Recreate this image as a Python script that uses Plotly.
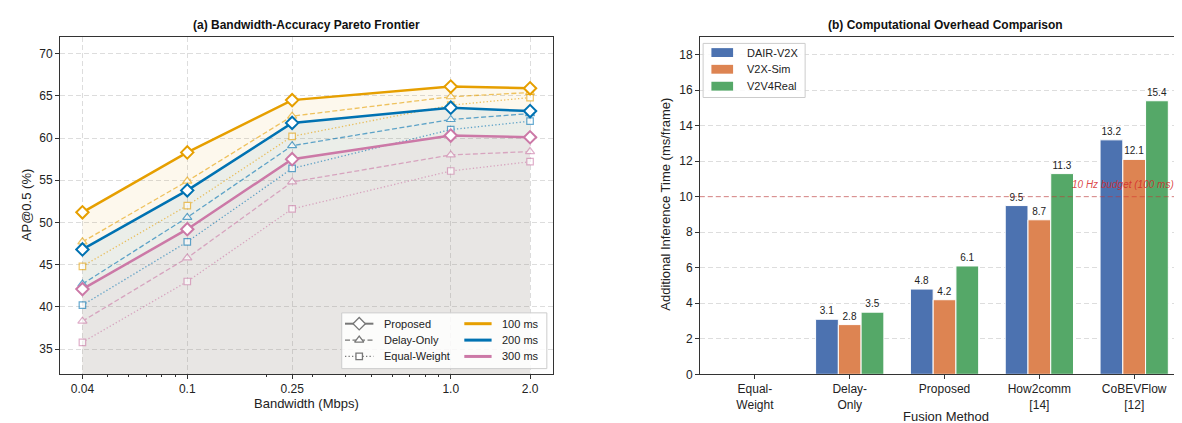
import plotly.graph_objects as go

# ---------------- data: panel (a) ----------------
bandwidth = [0.04, 0.1, 0.25, 1.0, 2.0]
bandwidth_labels = ["0.04", "0.1", "0.25", "1.0", "2.0"]
delay_labels = ["100 ms", "200 ms", "300 ms"]

proposed_100 = [51.2, 58.3, 64.5, 66.1, 65.9]
proposed_200 = [46.8, 53.8, 61.8, 63.6, 63.2]
proposed_300 = [42.1, 49.2, 57.5, 60.3, 60.1]
delay_only_100 = [47.7, 54.9, 62.6, 64.9, 65.4]
delay_only_200 = [42.7, 50.6, 59.1, 62.2, 62.9]
delay_only_300 = [38.3, 45.8, 54.8, 58.0, 58.4]
equal_weight_100 = [44.8, 52.0, 60.2, 63.9, 64.8]
equal_weight_200 = [40.2, 47.7, 56.4, 61.0, 62.0]
equal_weight_300 = [35.8, 43.0, 51.6, 56.1, 57.2]

# ---------------- data: panel (b) ----------------
methods = ["Equal-<br>Weight", "Delay-<br>Only", "Proposed", "How2comm<br>[14]", "CoBEVFlow<br>[12]"]
datasets = ["DAIR-V2X", "V2X-Sim", "V2V4Real"]
dair_v2x = [0.0, 3.1, 4.8, 9.5, 13.2]
v2x_sim = [0.0, 2.8, 4.2, 8.7, 12.1]
v2v4real = [0.0, 3.5, 6.1, 11.3, 15.4]
budget_ms = 10

# ---------------- styles ----------------
W, H = 1182, 423
delay_colors = ["#E69F00", "#0072B2", "#CC79A7"]
delay_fills = ["rgba(230,159,0,0.07)", "rgba(0,114,178,0.07)", "rgba(204,121,167,0.07)"]
bar_colors = ["#4C72B0", "#DD8452", "#55A868"]
FONT = "Liberation Sans, Arial, sans-serif"
AX = "#333333"
GRID = "#dddddd"
TXT = "#222222"
DASH = "5px,2.5px"
DOT = "1.3px,2.2px"


def px_x(p):
    return p / W


def px_y(p):
    return 1 - p / H


fig = go.Figure()

prop = [proposed_100, proposed_200, proposed_300]
dly = [delay_only_100, delay_only_200, delay_only_300]
eqw = [equal_weight_100, equal_weight_200, equal_weight_300]

# fills under proposed curves
for i in range(3):
    fig.add_trace(go.Scatter(x=bandwidth, y=prop[i], mode="none", fill="tozeroy",
                             fillcolor=delay_fills[i], showlegend=False, hoverinfo="skip",
                             xaxis="x", yaxis="y"))

# baselines
for i in range(3):
    fig.add_trace(go.Scatter(x=bandwidth, y=dly[i], mode="lines+markers", opacity=0.6,
                             line=dict(color=delay_colors[i], width=1.3, dash=DASH),
                             marker=dict(symbol="triangle-up", size=8, color="white",
                                         line=dict(color=delay_colors[i], width=1.2)),
                             showlegend=False, xaxis="x", yaxis="y"))
    fig.add_trace(go.Scatter(x=bandwidth, y=eqw[i], mode="lines+markers", opacity=0.6,
                             line=dict(color=delay_colors[i], width=1.3, dash=DOT),
                             marker=dict(symbol="square", size=6.5, color="white",
                                         line=dict(color=delay_colors[i], width=1.2)),
                             showlegend=False, xaxis="x", yaxis="y"))

# proposed
for i in range(3):
    fig.add_trace(go.Scatter(x=bandwidth, y=prop[i], mode="lines+markers",
                             line=dict(color=delay_colors[i], width=2.5),
                             marker=dict(symbol="diamond", size=9.5, color="white",
                                         line=dict(color=delay_colors[i], width=2)),
                             showlegend=False, xaxis="x", yaxis="y"))

# ---------------- panel (b) bars ----------------
for name, vals, c in zip(datasets, [dair_v2x, v2x_sim, v2v4real], bar_colors):
    fig.add_trace(go.Bar(x=methods, y=vals, name=name, marker=dict(color=c, line=dict(color="white", width=1)),
                         text=[f"{v:.1f}" if v > 0 else "" for v in vals], textposition="outside",
                         textfont=dict(size=10, color=TXT, family=FONT), constraintext="none",
                         cliponaxis=False, showlegend=False, xaxis="x2", yaxis="y2"))

# ---------------- legends drawn on a pixel overlay (x3/y3) ----------------
def legend_box(x0, x1, y0, y1):
    fig.add_trace(go.Scatter(x=[x0, x1, x1, x0, x0], y=[y0, y0, y1, y1, y0], mode="lines",
                             fill="toself", fillcolor="rgba(255,255,255,0.85)",
                             line=dict(color="#cccccc", width=1), showlegend=False,
                             hoverinfo="skip", xaxis="x3", yaxis="y3"))


def legend_text(x, y, text):
    fig.add_annotation(xref="x3", yref="y3", x=x, y=y, text=text, showarrow=False,
                       xanchor="left", yanchor="middle", font=dict(size=11, family=FONT, color=TXT))


# left legend
legend_box(334, 539.3, 310, 366.7)
rows_a = [321, 337.7, 354.3]
style_names = ["Proposed", "Delay-Only", "Equal-Weight"]
style_dash = ["solid", DASH, DOT]
style_sym = ["diamond", "triangle-up", "square"]
style_size = [9.5, 8, 6.5]
style_w = [2, 1.3, 1.3]
for r, n, d, s, sz, lw in zip(rows_a, style_names, style_dash, style_sym, style_size, style_w):
    fig.add_trace(go.Scatter(x=[337.3, 365.7], y=[r, r], mode="lines", line=dict(color="#777777", width=lw, dash=d),
                             showlegend=False, hoverinfo="skip", xaxis="x3", yaxis="y3"))
    fig.add_trace(go.Scatter(x=[351.5], y=[r], mode="markers",
                             marker=dict(symbol=s, size=sz, color="white", line=dict(color="#777777", width=1.3)),
                             showlegend=False, hoverinfo="skip", xaxis="x3", yaxis="y3"))
    legend_text(374.3, r, n)
for r, n, c in zip(rows_a, delay_labels, delay_colors):
    fig.add_trace(go.Scatter(x=[456.7, 484], y=[r, r], mode="lines", line=dict(color=c, width=3),
                             showlegend=False, hoverinfo="skip", xaxis="x3", yaxis="y3"))
    legend_text(492.3, r, n)

# right legend
legend_box(695.7, 797.8, 36, 91)
rows_b = [45.3, 62.3, 79.5]
for r, n, c in zip(rows_b, datasets, bar_colors):
    fig.add_trace(go.Scatter(x=[704, 725.7, 725.7, 704, 704], y=[r - 4.5, r - 4.5, r + 4.5, r + 4.5, r - 4.5],
                             mode="lines", fill="toself", fillcolor=c, line=dict(color=c, width=0),
                             showlegend=False, hoverinfo="skip", xaxis="x3", yaxis="y3"))
    legend_text(737.3, r, n)

ydom = [px_y(372.5), px_y(29.3)]
tickfont = dict(size=12, color=TXT, family=FONT)

fig.update_layout(
    width=W, height=H, margin=dict(l=0, r=0, t=0, b=0),
    paper_bgcolor="white", plot_bgcolor="rgba(0,0,0,0)",
    font=dict(family=FONT, color=TXT),
    barmode="group", bargap=0.28, bargroupgap=0.0,
    showlegend=False,
    xaxis=dict(domain=[px_x(51.8), px_x(545.7)], type="log", range=[-1.484, 0.389],
               tickvals=bandwidth, ticktext=bandwidth_labels, tickfont=tickfont,
               showline=True, linecolor=AX, linewidth=1.3, mirror=True,
               ticks="outside", ticklen=3.5, tickcolor=AX,
               showgrid=True, gridcolor=GRID, griddash="5px,3px", gridwidth=1,
               minor=dict(tickvals=[0.05, 0.06, 0.07, 0.08, 0.09, 0.2, 0.3, 0.4, 0.5, 0.6, 0.7, 0.8, 0.9],
                          ticks="outside", ticklen=2, tickcolor=AX, showgrid=False),
               zeroline=False, anchor="y"),
    yaxis=dict(domain=ydom, range=[32, 72], tick0=35, dtick=5, tickfont=tickfont,
               showline=True, linecolor=AX, linewidth=1.3, mirror=True,
               ticks="outside", ticklen=3.5, tickcolor=AX,
               showgrid=True, gridcolor=GRID, griddash="5px,3px", zeroline=False, anchor="x"),
    xaxis2=dict(domain=[px_x(692.3), 1.0], range=[-0.582, 4.578], type="category",
                tickfont=tickfont, showline=True, linecolor=AX, linewidth=1.3, mirror=True,
                ticks="outside", ticklen=3.5, tickcolor=AX, showgrid=False, anchor="y2"),
    yaxis2=dict(domain=ydom, range=[0, 19], tick0=0, dtick=2, tickfont=tickfont,
                showline=True, linecolor=AX, linewidth=1.3, mirror=True,
                ticks="outside", ticklen=3.5, tickcolor=AX,
                showgrid=True, gridcolor=GRID, griddash="5px,3px", zeroline=False, anchor="x2"),
    xaxis3=dict(domain=[0, 1], range=[0, W], visible=False, fixedrange=True, anchor="y3"),
    yaxis3=dict(domain=[0, 1], range=[H, 0], visible=False, fixedrange=True, anchor="x3"),
)

# budget line
fig.add_shape(type="line", xref="x2 domain", yref="y2", x0=0, x1=1, y0=budget_ms, y1=budget_ms,
              line=dict(color="rgba(214,39,40,0.5)", width=1, dash="5px,3px"), layer="above")
fig.add_annotation(xref="x2", yref="y2", x=4.44, y=budget_ms + 0.68, text="<i>10 Hz budget (100 ms)</i>",
                   showarrow=False, xanchor="right", yanchor="middle",
                   font=dict(size=10, color="rgba(214,39,40,0.85)", family=FONT))

# titles
fig.add_annotation(xref="paper", yref="paper", x=px_x(298.7), y=px_y(17), showarrow=False,
                   text="<b>(a) Bandwidth-Accuracy Pareto Frontier</b>", xanchor="center", yanchor="middle",
                   font=dict(size=12, family=FONT, color="#111111"))
fig.add_annotation(xref="paper", yref="paper", x=px_x(938.5), y=px_y(17), showarrow=False,
                   text="<b>(b) Computational Overhead Comparison</b>", xanchor="center", yanchor="middle",
                   font=dict(size=12, family=FONT, color="#111111"))
# axis titles
fig.add_annotation(xref="paper", yref="paper", x=px_x(18.5), y=px_y(200), showarrow=False,
                   text="AP@0.5 (%)", textangle=-90, xanchor="center", yanchor="middle",
                   font=dict(size=13, family=FONT, color=TXT))
fig.add_annotation(xref="paper", yref="paper", x=px_x(298.7), y=px_y(401.7), showarrow=False,
                   text="Bandwidth (Mbps)", xanchor="center", yanchor="middle",
                   font=dict(size=13, family=FONT, color=TXT))
fig.add_annotation(xref="paper", yref="paper", x=px_x(658.6), y=px_y(200), showarrow=False,
                   text="Additional Inference Time (ms/frame)", textangle=-90, xanchor="center", yanchor="middle",
                   font=dict(size=13, family=FONT, color=TXT))
fig.add_annotation(xref="paper", yref="paper", x=px_x(938.5), y=px_y(415), showarrow=False,
                   text="Fusion Method", xanchor="center", yanchor="middle",
                   font=dict(size=13, family=FONT, color=TXT))

fig.write_html("out.html")
